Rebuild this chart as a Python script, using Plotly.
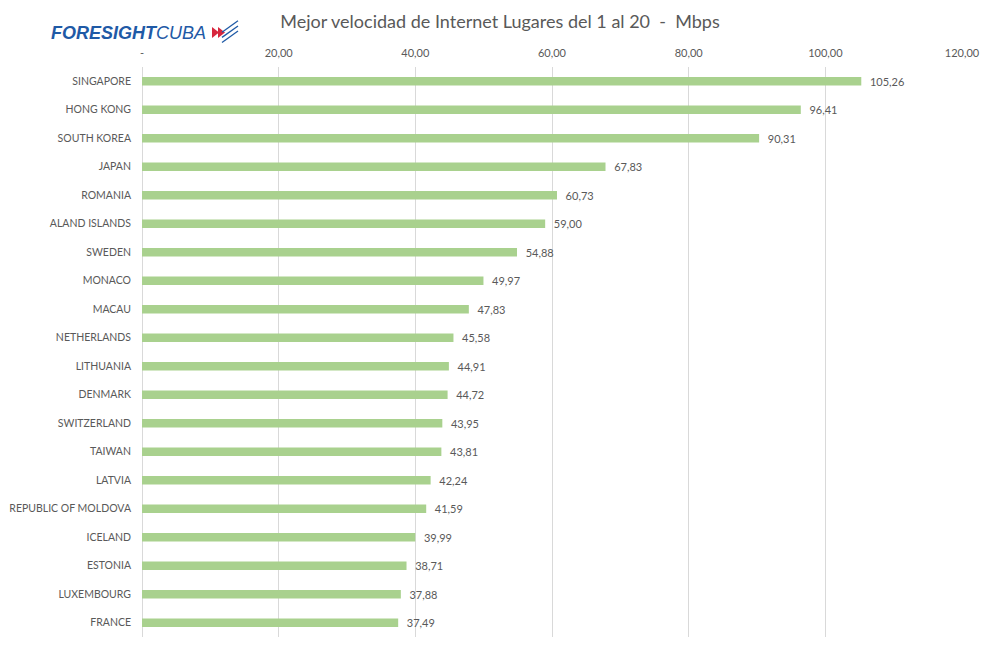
import plotly.graph_objects as go

countries = ["SINGAPORE", "HONG KONG", "SOUTH KOREA", "JAPAN", "ROMANIA", "ALAND ISLANDS",
             "SWEDEN", "MONACO", "MACAU", "NETHERLANDS", "LITHUANIA", "DENMARK",
             "SWITZERLAND", "TAIWAN", "LATVIA", "REPUBLIC OF MOLDOVA", "ICELAND",
             "ESTONIA", "LUXEMBOURG", "FRANCE"]
speeds = [105.26, 96.41, 90.31, 67.83, 60.73, 59.00, 54.88, 49.97, 47.83, 45.58,
          44.91, 44.72, 43.95, 43.81, 42.24, 41.59, 39.99, 38.71, 37.88, 37.49]
tick_vals = [0, 20, 40, 60, 80, 100, 120]
tick_text = ["-", "20,00", "40,00", "60,00", "80,00", "100,00", "120,00"]

labels = ["\u00a0\u00a0" + f"{v:.2f}".replace(".", ",") for v in speeds]
FONT = "Lato"
GREY = "#595959"

fig = go.Figure(go.Bar(
    x=speeds, y=countries, orientation="h",
    marker=dict(color="#A9D18E", line=dict(width=0)),
    width=0.3,
    text=labels, textposition="outside", cliponaxis=False,
    constraintext="none", textangle=0,
    textfont=dict(family=FONT, size=11, color=GREY),
    hoverinfo="skip",
))

fig.update_layout(
    width=1000, height=653,
    margin=dict(l=142, r=38, t=67, b=16),
    paper_bgcolor="white", plot_bgcolor="white",
    showlegend=False,
    title=dict(text="Mejor velocidad de Internet Lugares del 1 al 20  -  Mbps",
               x=0.5, xanchor="center", y=0.967, yanchor="middle",
               font=dict(family=FONT, size=18, color=GREY)),
    xaxis=dict(side="top", range=[0, 120], tickvals=tick_vals, ticktext=tick_text,
               showgrid=True, gridcolor="#D9D9D9", gridwidth=1,
               zeroline=True, zerolinecolor="#D9D9D9", zerolinewidth=1,
               showline=False, ticks="", ticklabelstandoff=7, automargin=False,
               tickfont=dict(family=FONT, size=11, color=GREY)),
    yaxis=dict(categoryorder="array", categoryarray=countries,
               range=[19.5, -0.5], showgrid=False, zeroline=False,
               ticks="", ticklabelstandoff=10, automargin=False,
               tickfont=dict(family=FONT, size=10.5, color=GREY)),
)

# Logo
fig.add_annotation(xref="paper", yref="paper", x=-0.113, y=1.06, xanchor="left", yanchor="middle",
                   text="<b><i>FORESIGHT</i></b><i>CUBA</i>", showarrow=False,
                   font=dict(family="Liberation Sans", size=18, color="#1F5AA6"))
# logo icon (decoration)
for dx in (0, 6):
    x0 = (212 + dx - 142) / 820
    fig.add_shape(type="path", xref="paper", yref="paper",
                  path=f"M {x0:.4f} 1.070 L {x0 + 7/820:.4f} 1.0605 L {x0:.4f} 1.051 Z",
                  fillcolor="#D7263D", line=dict(width=0))
for yy in (1.071, 1.062, 1.053):
    fig.add_shape(type="line", xref="paper", yref="paper",
                  x0=(222 - 142) / 820, y0=yy - 0.010, x1=(238 - 142) / 820, y1=yy + 0.010,
                  line=dict(color="#1F5AA6", width=1.3))

fig.write_html("out.html")
